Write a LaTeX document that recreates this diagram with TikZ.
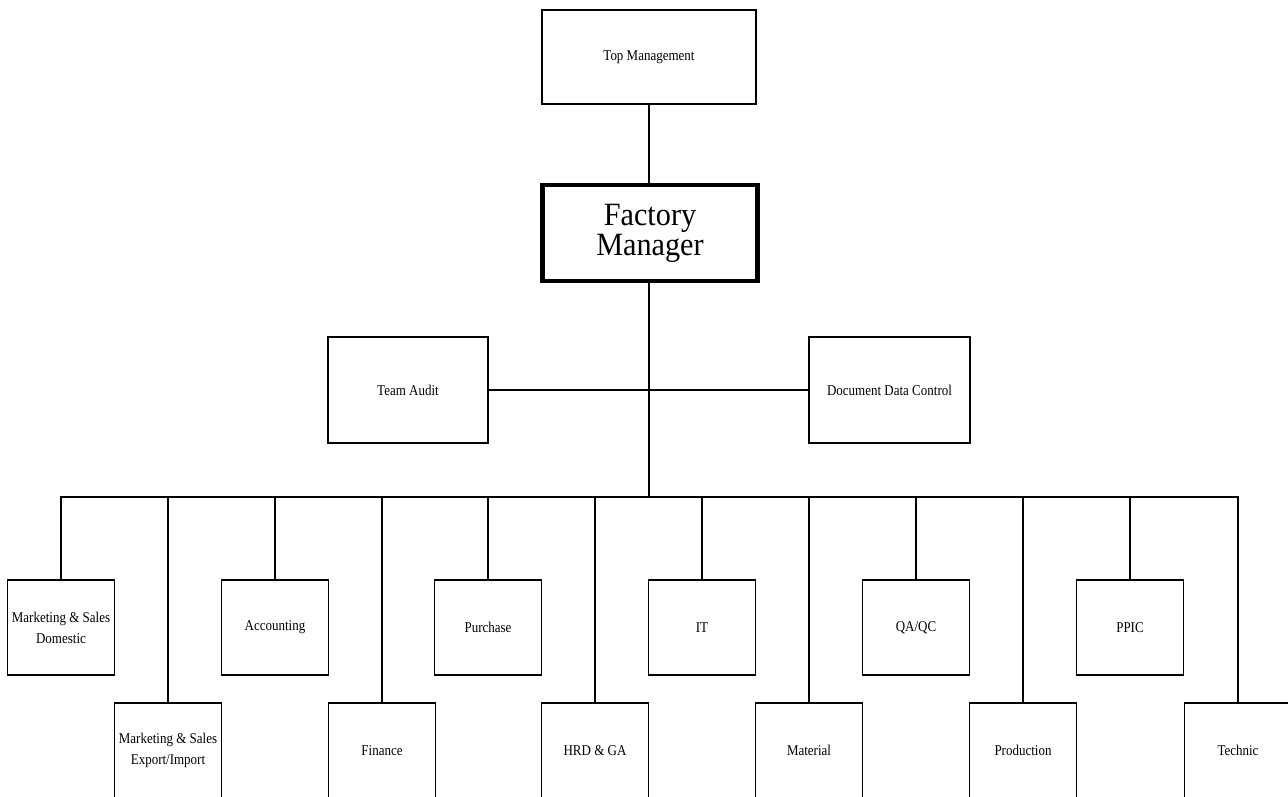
\documentclass[tikz,border=0pt]{standalone}
\usepackage{fontspec}
\setmainfont[FakeStretch=0.87]{Liberation Serif}
\newfontfamily\bigfont[FakeStretch=0.93]{Liberation Serif}
\begin{document}
\begin{tikzpicture}[x=0.02cm,y=-0.02cm]
      \clip (0,0) rectangle (1288,796);
      \fill[white] (0,0) rectangle (1288,796);
      \begin{scope}[every node/.style={draw,line width=1pt,align=center,inner sep=0pt,
          font=\fontsize{8.5}{12}\selectfont},
          dept/.style={minimum width=2.14cm,minimum height=1.9cm}]
        \node[minimum width=4.28cm,minimum height=1.88cm] (top) at (649,57) {Top Management};
        \node[minimum width=4.3cm,minimum height=1.92cm,line width=2.4pt,
          font=\bigfont\fontsize{18.5}{17}\selectfont] (fm) at (650,233) {Factory\\Manager};
        \node[minimum width=3.2cm,minimum height=2.12cm] (ta) at (408,390) {Team Audit};
        \node[minimum width=3.22cm,minimum height=2.12cm] (dc) at (889.5,390) {Document Data Control};
        \node[dept] (dom) at (61,627.5) {Marketing \& Sales\\Domestic};
        \node[dept] (acc) at (275,627.5) {Accounting};
        \node[dept] (pur) at (488,627.5) {Purchase};
        \node[dept] (it) at (702,627.5) {IT};
        \node[dept] (qa) at (916,627.5) {QA/QC};
        \node[dept] (ppic) at (1130,627.5) {PPIC};
        \node[dept] (exp) at (168,750.5) {Marketing \& Sales\\Export/Import};
        \node[dept] (fin) at (382,750.5) {Finance};
        \node[dept] (hrd) at (595,750.5) {HRD \& GA};
        \node[dept] (mat) at (809,750.5) {Material};
        \node[dept] (prod) at (1023,750.5) {Production};
        \node[dept] (tec) at (1238,750.5) {Technic};
      \end{scope}
      \coordinate (bus) at (649,497);
      \begin{scope}[line width=1pt]
        \draw (top) -- (top|-fm.north);
        \draw (fm.south-|top) -- (bus);
        \draw (ta) -- (dc);
        \foreach \d in {dom,exp,acc,fin,pur,hrd,it,mat,qa,prod,ppic,tec}
          \draw (bus) -| (\d.north);
      \end{scope}
    \end{tikzpicture}
\end{document}
